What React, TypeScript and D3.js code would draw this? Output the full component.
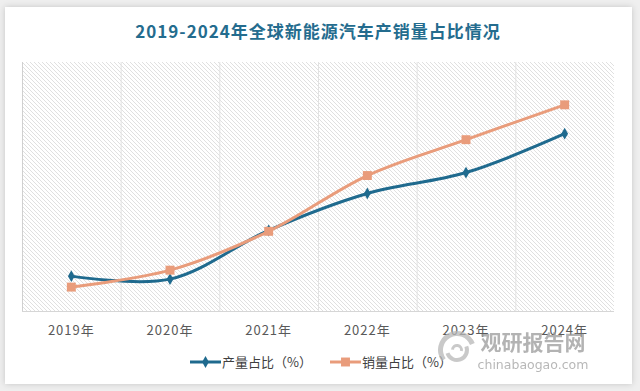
import React, { useEffect, useRef } from 'react';
import * as d3 from 'd3';

// chart values
const years = ['2019年', '2020年', '2021年', '2022年', '2023年', '2024年'];
const productionShare = [3.5, 3.2, 8.1, 11.8, 13.9, 17.8];
const salesShare = [2.4, 4.1, 8.0, 13.6, 17.2, 20.7];
const seriesNames = ['产量占比（%）', '销量占比（%）'];
const seriesColors = ['#1f6a8e', '#e99c7b'];
const title = '2019-2024年全球新能源汽车产销量占比情况';

function App() {
  const svgRef = useRef(null);

  useEffect(() => {
    document.body.style.margin = '0';
    const width = 640;
    const height = 391;
    const plot = { left: 22, right: 614, top: 62, bottom: 311 };
    const font = '"Noto Sans CJK SC", "Noto Sans", sans-serif';

    const svg = d3.select(svgRef.current);
    svg.selectAll('*').remove();

    const defs = svg.append('defs');
    const pattern = defs
      .append('pattern')
      .attr('id', 'hatch')
      .attr('patternUnits', 'userSpaceOnUse')
      .attr('width', 4)
      .attr('height', 4);
    pattern.append('rect').attr('width', 4).attr('height', 4).attr('fill', '#fff');
    pattern
      .append('path')
      .attr('d', 'M-1,-1L5,5M3,-1L5,1M-1,3L1,5')
      .attr('stroke', '#dcdcdc')
      .attr('stroke-width', 0.9);

    const shadow = defs.append('filter').attr('id', 'shadow').attr('x', '-5%').attr('y', '-5%').attr('width', '110%').attr('height', '110%');
    shadow
      .append('feDropShadow')
      .attr('dx', 0)
      .attr('dy', 0)
      .attr('stdDeviation', 3)
      .attr('flood-color', '#000')
      .attr('flood-opacity', 0.18);

    // page + card
    svg.append('rect').attr('width', width).attr('height', height).attr('fill', '#efefef');
    svg
      .append('rect')
      .attr('x', 5)
      .attr('y', 7)
      .attr('width', 627)
      .attr('height', 377)
      .attr('fill', '#fff')
      .attr('filter', 'url(#shadow)');

    svg
      .append('text')
      .attr('x', 318)
      .attr('y', 38)
      .attr('text-anchor', 'middle')
      .style('font-family', font)
      .style('font-size', '17px')
      .style('font-weight', 'bold')
      .style('fill', '#246c8e')
      .style('letter-spacing', '1px')
      .text(title);

    const xScale = d3.scaleBand().domain(years).range([plot.left, plot.right]);
    const yScale = d3.scaleLinear().domain([0, 25]).range([plot.bottom, plot.top]);
    const cx = (d) => xScale(d) + xScale.bandwidth() / 2;

    svg
      .append('rect')
      .attr('x', plot.left)
      .attr('y', plot.top)
      .attr('width', plot.right - plot.left)
      .attr('height', plot.bottom - plot.top)
      .attr('fill', 'url(#hatch)');

    // category gridlines
    years.forEach((y, i) => {
      if (i === 0) return;
      svg
        .append('line')
        .attr('x1', xScale(y) + 0.5)
        .attr('x2', xScale(y) + 0.5)
        .attr('y1', plot.top)
        .attr('y2', plot.bottom)
        .attr('stroke', '#e2e2e2')
        .attr('stroke-width', 1);
    });
    svg
      .append('line')
      .attr('x1', plot.left + 0.5)
      .attr('x2', plot.left + 0.5)
      .attr('y1', plot.top)
      .attr('y2', plot.bottom)
      .attr('stroke', '#d0d0d0');
    svg
      .append('line')
      .attr('x1', plot.left)
      .attr('x2', plot.right)
      .attr('y1', plot.bottom + 0.5)
      .attr('y2', plot.bottom + 0.5)
      .attr('stroke', '#d6d6d6');

    // x labels
    svg
      .append('g')
      .selectAll('text')
      .data(years)
      .join('text')
      .attr('x', (d) => cx(d))
      .attr('y', 335)
      .attr('text-anchor', 'middle')
      .style('font-family', font)
      .style('font-size', '13px')
      .style('letter-spacing', '1px')
      .style('fill', '#595959')
      .text((d) => d);

    const line = d3
      .line()
      .x((d, i) => cx(years[i]))
      .y((d) => yScale(d))
      .curve(d3.curveCatmullRom.alpha(0.5));

    const diamond = d3.symbol().type(d3.symbolDiamond).size(40);
    const square = d3.symbol().type(d3.symbolSquare).size(80);

    [productionShare, salesShare].forEach((values, s) => {
      svg
        .append('path')
        .datum(values)
        .attr('fill', 'none')
        .attr('stroke', seriesColors[s])
        .attr('stroke-width', 3)
        .attr('d', line);
    });

    [productionShare, salesShare].forEach((values, s) => {
      svg
        .append('g')
        .selectAll('path')
        .data(values)
        .join('path')
        .attr('transform', (d, i) => `translate(${cx(years[i])},${yScale(d)})`)
        .attr('d', s === 0 ? diamond() : square())
        .attr('fill', seriesColors[s]);
    });

    // legend
    const legendX = [190, 330];
    seriesNames.forEach((name, s) => {
      const g = svg.append('g').attr('transform', `translate(${legendX[s]},362)`);
      g.append('line').attr('x1', 0).attr('x2', 31).attr('stroke', seriesColors[s]).attr('stroke-width', 3);
      g.append('path')
        .attr('transform', 'translate(15.5,0)')
        .attr('d', s === 0 ? diamond() : square())
        .attr('fill', seriesColors[s]);
      g.append('text')
        .attr('x', 32)
        .attr('y', 4.5)
        .style('font-family', font)
        .style('font-size', '13px')
        .style('fill', '#404040')
        .text(name);
    });

    // watermark
    const wm = svg.append('g').attr('opacity', 0.75);
    const arc = d3.arc();
    [
      { r0: 14, r1: 19, a0: -2.2, a1: 1.2 },
      { r0: 8, r1: 12, a0: 1.2, a1: 4.4 },
      { r0: 3, r1: 6, a0: -1.5, a1: 1.8 },
    ].forEach((a) => {
      wm.append('path')
        .attr('transform', 'translate(457,350)')
        .attr('d', arc({ innerRadius: a.r0, outerRadius: a.r1, startAngle: a.a0, endAngle: a.a1 }))
        .attr('fill', '#b8b8b8');
    });
    wm.append('text')
      .attr('x', 533)
      .attr('y', 350)
      .attr('text-anchor', 'middle')
      .style('font-family', font)
      .style('font-size', '21px')
      .style('font-weight', 'bold')
      .style('fill', '#9a9a9a')
      .text('观研报告网');
    wm.append('text')
      .attr('x', 533)
      .attr('y', 369)
      .attr('text-anchor', 'middle')
      .style('font-family', '"DejaVu Sans", sans-serif')
      .style('font-size', '12.5px')
      .style('fill', '#a0a0a0')
      .text('chinabaogao.com');
  }, []);

  return <svg ref={svgRef} width={640} height={391} style={{ display: 'block' }}></svg>;
}

export default App;
